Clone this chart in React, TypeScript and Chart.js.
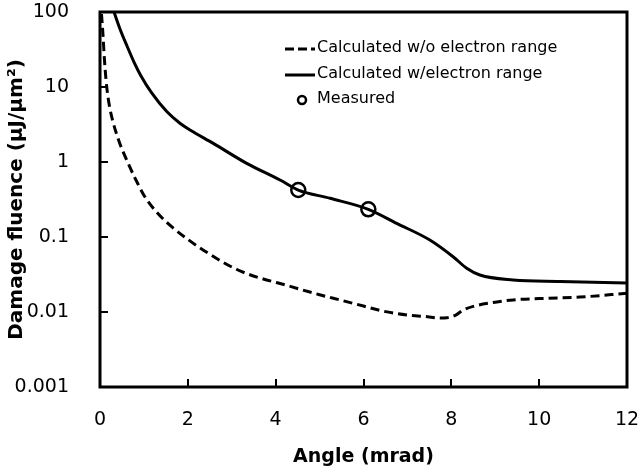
import React, { useEffect, useRef } from "react";
import { Chart, registerables } from "chart.js";

Chart.register(...registerables);

const noRangeX = [0.034, 0.068, 0.102, 0.137, 0.182, 0.228, 0.273, 0.342, 0.455, 0.638, 0.797, 1.025, 1.298, 1.639, 2.004, 2.323, 3.142, 4.372, 5.0, 5.5, 6.0, 6.4, 7.0, 7.5, 7.74, 7.9, 8.1, 8.27, 8.6, 9.0, 9.41, 10.0, 10.93, 12.0];
const noRangeY = [94, 49.4, 22.9, 12.4, 7.36, 5.09, 3.86, 2.75, 1.74, 0.97, 0.61, 0.341, 0.212, 0.136, 0.0926, 0.0686, 0.0363, 0.0216, 0.017, 0.0143, 0.012, 0.0104, 0.0091, 0.0086, 0.0083, 0.0084, 0.0091, 0.0106, 0.0123, 0.0135, 0.0145, 0.0151, 0.0158, 0.0178];

const withRangeX = [0.319, 0.455, 0.615, 0.774, 0.934, 1.177, 1.52, 1.82, 2.05, 2.58, 3.34, 4.1, 4.515, 5.24, 6.11, 6.755, 7.51, 8.04, 8.35, 8.65, 9.41, 10.47, 12.0];
const withRangeY = [100, 59.4, 35.2, 21.5, 14.0, 8.32, 4.7, 3.28, 2.67, 1.77, 0.96, 0.575, 0.423, 0.328, 0.234, 0.152, 0.0912, 0.0546, 0.0383, 0.0311, 0.0267, 0.0255, 0.0244];

const measuredX = [4.515, 6.11];
const measuredY = [0.423, 0.234];

const seriesLabels = ["Calculated w/o electron range", "Calculated w/electron range", "Measured"];

const xTickValues = [0, 2, 4, 6, 8, 10, 12];
const yTickValues = [0.001, 0.01, 0.1, 1, 10, 100];
const yTickLabels = ["0.001", "0.01", "0.1", "1", "10", "100"];

const xTitle = "Angle (mrad)";
const yTitle = "Damage fluence (µJ/µm²)";

const FONT = "DejaVu Sans";

const pts = (xs: number[], ys: number[]) => xs.map((x, i) => ({ x, y: ys[i] }));

const decorPlugin = {
  id: "decor",
  afterDraw(chart: any) {
    const { ctx, chartArea: a, scales } = chart;
    ctx.save();
    ctx.strokeStyle = "#000";
    ctx.lineJoin = "miter";
    ctx.lineCap = "butt";
    ctx.lineWidth = 2;
    ctx.beginPath();
    xTickValues.forEach((v) => {
      const px = Math.round(scales.x.getPixelForValue(v));
      ctx.moveTo(px, a.bottom);
      ctx.lineTo(px, a.bottom - 8);
    });
    yTickValues.forEach((v) => {
      const py = Math.round(scales.y.getPixelForValue(v));
      ctx.moveTo(a.left, py);
      ctx.lineTo(a.left + 8, py);
    });
    ctx.stroke();
    ctx.lineWidth = 3;
    ctx.strokeRect(a.left, a.top, a.right - a.left, a.bottom - a.top);

    ctx.fillStyle = "#000";
    ctx.font = `16px "${FONT}"`;
    ctx.textAlign = "left";
    ctx.textBaseline = "middle";
    const sx = 285, ex = 315, tx = 317;
    const rows = [48, 74, 99];
    ctx.lineWidth = 3;
    ctx.setLineDash([9, 4]);
    ctx.beginPath();
    ctx.moveTo(sx, rows[0] + 1);
    ctx.lineTo(ex, rows[0] + 1);
    ctx.stroke();
    ctx.setLineDash([]);
    ctx.fillText(seriesLabels[0], tx, rows[0]);
    ctx.beginPath();
    ctx.moveTo(sx, rows[1] + 1);
    ctx.lineTo(ex, rows[1] + 1);
    ctx.stroke();
    ctx.fillText(seriesLabels[1], tx, rows[1]);
    ctx.lineWidth = 2.5;
    ctx.beginPath();
    ctx.arc(302, rows[2] + 1, 4, 0, Math.PI * 2);
    ctx.stroke();
    ctx.fillText(seriesLabels[2], tx, rows[2]);
    ctx.restore();
  },
};

export default function App() {
  const ref = useRef<HTMLCanvasElement | null>(null);
  useEffect(() => {
    if (!ref.current) return;
    Chart.defaults.font.family = FONT;
    Chart.defaults.color = "#000";
    const chart = new Chart(ref.current, {
      type: "scatter",
      data: {
        datasets: [
          {
            label: seriesLabels[0],
            data: pts(noRangeX, noRangeY),
            showLine: true,
            borderColor: "#000",
            borderWidth: 3,
            borderDash: [9, 5],
            pointRadius: 0,
            cubicInterpolationMode: "monotone",
            fill: false,
          },
          {
            label: seriesLabels[1],
            data: pts(withRangeX, withRangeY),
            showLine: true,
            borderColor: "#000",
            borderWidth: 3,
            pointRadius: 0,
            cubicInterpolationMode: "monotone",
            fill: false,
          },
          {
            label: seriesLabels[2],
            data: pts(measuredX, measuredY),
            showLine: false,
            borderColor: "#000",
            backgroundColor: "rgba(0,0,0,0)",
            borderWidth: 2.5,
            pointRadius: 7,
            pointStyle: "circle",
          },
        ],
      },
      options: {
        responsive: false,
        animation: false,
        layout: { padding: { top: 12, right: 13, left: 0, bottom: 0 } },
        plugins: { legend: { display: false }, tooltip: { enabled: false } },
        scales: {
          x: {
            type: "linear",
            min: 0,
            max: 12,
            grid: { display: false },
            border: { display: false },
            afterBuildTicks: (s: any) => {
              s.ticks = xTickValues.map((v) => ({ value: v }));
            },
            afterFit: (s: any) => {
              s.height = 81;
              s.paddingLeft = 0;
              s.paddingRight = 0;
              s.paddingTop = 0;
              s.paddingBottom = 0;
            },
            ticks: {
              font: { size: 19 },
              color: "#000",
              padding: 14,
              maxRotation: 0,
              autoSkip: false,
              callback: (v: any) => String(v),
            },
            title: {
              display: true,
              text: xTitle,
              font: { size: 19, weight: "bold" },
              color: "#000",
              padding: { top: 0, bottom: 0 },
            },
          },
          y: {
            type: "logarithmic",
            min: 0.001,
            max: 100,
            grid: { display: false },
            border: { display: false },
            afterBuildTicks: (s: any) => {
              s.ticks = yTickValues.map((v) => ({ value: v }));
            },
            afterFit: (s: any) => {
              s.width = 100;
              s.paddingLeft = 0;
              s.paddingRight = 0;
              s.paddingTop = 0;
              s.paddingBottom = 0;
            },
            ticks: {
              font: { size: 19 },
              color: "#000",
              padding: 23,
              autoSkip: false,
              callback: (v: any) => {
                const i = yTickValues.findIndex((t) => Math.abs(t - v) / t < 1e-6);
                return i >= 0 ? yTickLabels[i] : "";
              },
            },
            title: {
              display: true,
              text: yTitle,
              font: { size: 20, weight: "bold" },
              color: "#000",
              padding: { top: 5, bottom: 0 },
            },
          },
        },
      },
      plugins: [decorPlugin],
    });
    return () => chart.destroy();
  }, []);
  return (
    <div style={{ position: "fixed", left: 0, top: 0, width: 640, height: 468, background: "#fff" }}>
      <canvas ref={ref} width={640} height={468} style={{ width: 640, height: 468, display: "block" }} />
    </div>
  );
}
